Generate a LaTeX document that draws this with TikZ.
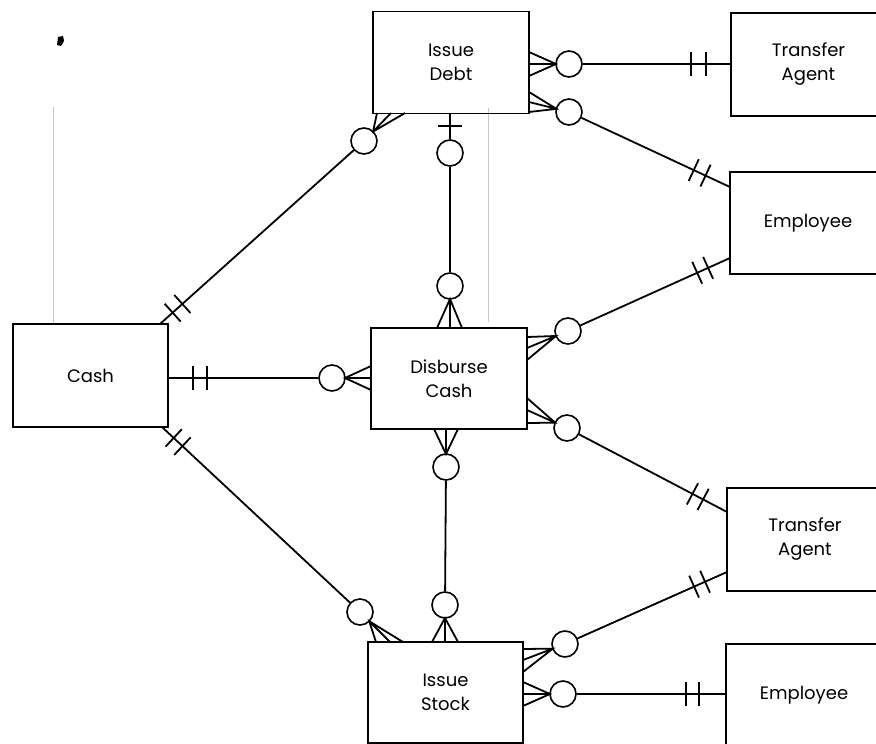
\documentclass[tikz,border=0pt]{standalone}
\usepackage{fontspec}
\setmainfont{Poppins}
\usetikzlibrary{calc}
\newcommand\crowfoot[4]{%
  \path ($(#1.center)!13pt!(#3)$) coordinate (cftip);
  \draw[link] (#2) -- (cftip) -- (#4) (cftip) -- (#3);
}
\newcommand\mbar[3]{%
  \path ($(#1)!#3!(#2)$) coordinate (mbp);
  \draw[link] ($(mbp)!12pt!90:(#2)$) -- ($(mbp)!12pt!-90:(#2)$);
}
\begin{document}
\begin{tikzpicture}[x=1pt,y=-1pt,
  entity/.style={draw, line width=1.3pt, minimum width=156pt, minimum height=102pt,
    inner sep=0pt, align=center, font=\fontsize{18}{24}\selectfont},
  opt/.style={draw, circle, line width=1.6pt, minimum size=26pt, inner sep=0pt, fill=white},
  link/.style={line width=1.8pt},
  scan/.style={draw=gray!45, line width=0.6pt}]
\useasboundingbox (0,0) rectangle (876,744);
\clip (0,0) rectangle (876,744);

% scan artefacts
\draw[scan] (53,107) -- (53,323);
\draw[scan] (488,108) -- (488,322);
\fill (58,37) -- (63,36) -- (64,41) -- (61,46) -- (57,45) -- cycle;

% entities
\node[entity] (debt)  at (451,62.5)   {Issue\\Debt};
\node[entity, minimum width=155pt, minimum height=103pt] (ta1) at (808.5,64.5) {Transfer\\Agent};
\node[entity] (emp1)  at (808,223)    {Employee};
\node[entity, minimum width=155pt, minimum height=103pt] (cash) at (90.5,375.5) {Cash};
\node[entity, minimum height=101pt] (dc) at (449,378.5) {Disburse\\Cash};
\node[entity, minimum height=103pt] (ta2) at (805,539.5) {Transfer\\Agent};
\node[entity, minimum width=155pt, minimum height=101pt] (stock) at (445.5,692.5) {Issue\\Stock};
\node[entity] (emp2)  at (804,695)    {Employee};

% optional circles
\node[opt] (o1)  at (569,64)  {};
\node[opt] (o2)  at (569,112) {};
\node[opt] (o3)  at (364,141) {};
\node[opt] (o4a) at (450,153) {};
\node[opt] (o4b) at (450,286) {};
\node[opt] (o5)  at (332,378) {};
\node[opt] (o6)  at (568,331) {};
\node[opt] (o7)  at (567,428) {};
\node[opt] (o8a) at (446,467) {};
\node[opt] (o8b) at (445,605) {};
\node[opt] (o9)  at (360,612) {};
\node[opt] (o10) at (565,644) {};
\node[opt] (o11) at (563,694) {};

% attachment points
\coordinate (e1)  at (731,64);
\coordinate (e2)  at (730,187);
\coordinate (e3)  at (160,324);
\coordinate (s4)  at (450,113);
\coordinate (e5)  at (168,378);
\coordinate (e6)  at (730,258);
\coordinate (e7)  at (727,512);
\coordinate (e9)  at (162,427);
\coordinate (e10) at (727,572);
\coordinate (e11) at (726,694);

\coordinate (f1a) at (529,52);  \coordinate (f1b) at (529,64);  \coordinate (f1c) at (529,76);
\coordinate (f2a) at (529,92);  \coordinate (f2b) at (529,102); \coordinate (f2c) at (529,112);
\coordinate (f3a) at (377,113); \coordinate (f3b) at (391,113); \coordinate (f3c) at (405,113);
\coordinate (f4a) at (437,328); \coordinate (f4b) at (450,328); \coordinate (f4c) at (462,328);
\coordinate (f5a) at (371,366); \coordinate (f5b) at (371,378); \coordinate (f5c) at (371,390);
\coordinate (f6a) at (527,337); \coordinate (f6b) at (527,348); \coordinate (f6c) at (527,360);
\coordinate (f7a) at (527,398); \coordinate (f7b) at (527,410); \coordinate (f7c) at (527,423);
\coordinate (f8a) at (434,429); \coordinate (f8b) at (446,429); \coordinate (f8c) at (458,429);
\coordinate (g8a) at (432,642); \coordinate (g8b) at (445,642); \coordinate (g8c) at (458,642);
\coordinate (f9a) at (376,642); \coordinate (f9b) at (390,642); \coordinate (f9c) at (403,642);
\coordinate (f10a) at (523,649); \coordinate (f10b) at (523,660); \coordinate (f10c) at (523,672);
\coordinate (f11a) at (523,682); \coordinate (f11b) at (523,694); \coordinate (f11c) at (523,706);

% R1 Issue Debt - Transfer Agent
\draw[link] (o1) -- (e1);
\mbar{e1}{o1}{25pt}\mbar{e1}{o1}{40pt}
\crowfoot{o1}{f1a}{f1b}{f1c}
% R2 Issue Debt - Employee
\draw[link] (o2) -- (e2);
\mbar{e2}{o2}{27pt}\mbar{e2}{o2}{40pt}
\crowfoot{o2}{f2a}{f2b}{f2c}
% R3 Issue Debt - Cash
\draw[link] (o3) -- (e3);
\mbar{e3}{o3}{17pt}\mbar{e3}{o3}{30pt}
\crowfoot{o3}{f3a}{f3b}{f3c}
% R4 Issue Debt - Disburse Cash
\draw[link] (s4) -- (o4a);
\mbar{s4}{o4a}{13pt}
\draw[link] (o4a) -- (o4b);
\crowfoot{o4b}{f4a}{f4b}{f4c}
% R5 Cash - Disburse Cash
\draw[link] (e5) -- (o5);
\mbar{e5}{o5}{25pt}\mbar{e5}{o5}{39pt}
\crowfoot{o5}{f5a}{f5b}{f5c}
% R6 Disburse Cash - Employee
\draw[link] (o6) -- (e6);
\mbar{e6}{o6}{24pt}\mbar{e6}{o6}{36pt}
\crowfoot{o6}{f6a}{f6b}{f6c}
% R7 Disburse Cash - Transfer Agent
\draw[link] (o7) -- (e7);
\mbar{e7}{o7}{27pt}\mbar{e7}{o7}{39pt}
\crowfoot{o7}{f7a}{f7b}{f7c}
% R8 Disburse Cash - Issue Stock
\crowfoot{o8a}{f8a}{f8b}{f8c}
\draw[link] (o8a) -- (o8b);
\crowfoot{o8b}{g8a}{g8b}{g8c}
% R9 Cash - Issue Stock
\draw[link] (e9) -- (o9);
\mbar{e9}{o9}{16pt}\mbar{e9}{o9}{28pt}
\crowfoot{o9}{f9a}{f9b}{f9c}
% R10 Issue Stock - Transfer Agent
\draw[link] (o10) -- (e10);
\mbar{e10}{o10}{24pt}\mbar{e10}{o10}{36pt}
\crowfoot{o10}{f10a}{f10b}{f10c}
% R11 Issue Stock - Employee
\draw[link] (o11) -- (e11);
\mbar{e11}{o11}{27pt}\mbar{e11}{o11}{40pt}
\crowfoot{o11}{f11a}{f11b}{f11c}
\end{tikzpicture}
\end{document}
